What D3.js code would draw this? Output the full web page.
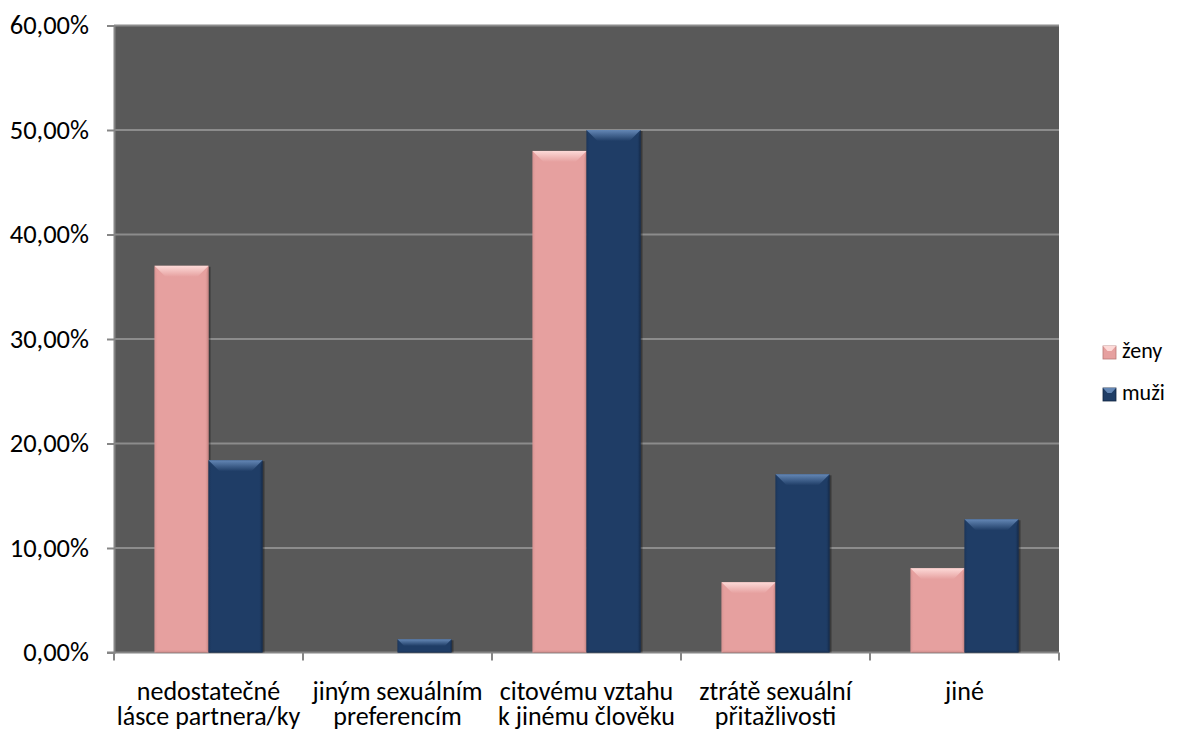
<!DOCTYPE html>
<html><head><meta charset="utf-8">
<script src="https://cdn.jsdelivr.net/npm/d3@7"></script>
<style>
html,body{margin:0;padding:0;background:#fff;}
svg text{font-family:Carlito, Calibri, Lato, sans-serif;fill:#000;}
</style></head>
<body>
<svg id="chart" width="1181" height="731"></svg>
<script>
const categories = [
  ["nedostatečné","lásce partnera/ky"],
  ["jiným sexuálním","preferencím"],
  ["citovému vztahu","k jinému člověku"],
  ["ztrátě sexuální","přitažlivosti"],
  ["jiné"]
];
const seriesNames = ["ženy","muži"];
const zenyValues = [0.370, 0.0, 0.480, 0.0672, 0.0806];
const muziValues = [0.184, 0.0126, 0.500, 0.1705, 0.1275];
const yTicks = [0, 0.1, 0.2, 0.3, 0.4, 0.5, 0.6];
const yTickLabels = ["0,00%","10,00%","20,00%","30,00%","40,00%","50,00%","60,00%"];

const colors = {
  "ženy": {base:"#E6A09F", light:"#FDDAD8", dark:"#B87977"},
  "muži": {base:"#1F3D66", light:"#6487B5", dark:"#112440"}
};

const svg = d3.select("#chart");
const plot = {l:114, r:1059, t:25.5, b:652.5};

const catKeys = categories.map((c,i)=>String(i));
const x0 = d3.scaleBand().domain(catKeys).range([plot.l, plot.r])
  .paddingInner(81/189).paddingOuter(81/378);
const x1 = d3.scaleBand().domain(seriesNames).range([0, x0.bandwidth()]);
const y = d3.scaleLinear().domain([0,0.6]).range([plot.b, plot.t]);
const xEdges = d3.scaleLinear().domain([0,5]).range([plot.l, plot.r]);

const defs = svg.append("defs");
seriesNames.forEach((s,si)=>{
  const c = colors[s];
  const gt = defs.append("linearGradient").attr("id","top"+si).attr("x1",0).attr("y1",0).attr("x2",0).attr("y2",1);
  gt.append("stop").attr("offset",0).attr("stop-color",c.light);
  gt.append("stop").attr("offset",1).attr("stop-color",c.base);
  const gl = defs.append("linearGradient").attr("id","left"+si).attr("x1",0).attr("y1",0).attr("x2",1).attr("y2",0);
  gl.append("stop").attr("offset",0).attr("stop-color",c.dark).attr("stop-opacity",0.4);
  gl.append("stop").attr("offset",1).attr("stop-color",c.base).attr("stop-opacity",0);
  const gr = defs.append("linearGradient").attr("id","right"+si).attr("x1",0).attr("y1",0).attr("x2",1).attr("y2",0);
  gr.append("stop").attr("offset",0).attr("stop-color",c.base).attr("stop-opacity",0);
  gr.append("stop").attr("offset",1).attr("stop-color",c.dark).attr("stop-opacity",0.9);
  const gb = defs.append("linearGradient").attr("id","bot"+si).attr("x1",0).attr("y1",0).attr("x2",0).attr("y2",1);
  gb.append("stop").attr("offset",0).attr("stop-color",c.base).attr("stop-opacity",0);
  gb.append("stop").attr("offset",1).attr("stop-color",c.dark).attr("stop-opacity",0.6);
});

svg.append("rect").attr("x",plot.l).attr("y",plot.t).attr("width",plot.r-plot.l).attr("height",plot.b-plot.t).attr("fill","#595959");

svg.append("g").selectAll("line").data(yTicks.filter(d=>d>0)).join("line")
  .attr("x1",plot.l).attr("x2",plot.r).attr("y1",d=>y(d)).attr("y2",d=>y(d))
  .attr("stroke","#8C8C8C").attr("stroke-width",2);

const yAxis = d3.axisLeft(y).tickValues(yTicks).tickSize(7).tickPadding(18)
  .tickFormat((d,i)=>yTickLabels[i]);
const gy = svg.append("g").attr("transform",`translate(${plot.l},0)`).call(yAxis);
gy.select(".domain").attr("stroke","#868686").attr("stroke-width",2);
gy.selectAll(".tick line").attr("stroke","#868686").attr("stroke-width",2);
gy.selectAll(".tick text").attr("font-size",26.5).attr("font-family","Carlito, Calibri, Lato, sans-serif").attr("fill","#000");

const gx = svg.append("g");
gx.append("line").attr("x1",plot.l-7).attr("x2",plot.r).attr("y1",plot.b).attr("y2",plot.b)
  .attr("stroke","#868686").attr("stroke-width",2);
gx.selectAll("line.tk").data(d3.range(6)).join("line").attr("class","tk")
  .attr("x1",d=>xEdges(d)).attr("x2",d=>xEdges(d)).attr("y1",plot.b).attr("y2",plot.b+8)
  .attr("stroke","#868686").attr("stroke-width",2);

const bevel = 11;
const bars = [];
categories.forEach((c,ci)=>{
  seriesNames.forEach((s,si)=>{
    const v = (si===0?zenyValues:muziValues)[ci];
    if (v<=0) return;
    bars.push({ci,si,s,v});
  });
});
const bg = svg.append("g").selectAll("g").data(bars).join("g");
bg.each(function(d){
  const g = d3.select(this);
  const bx = x0(String(d.ci)) + x1(d.s);
  const bw = x1.bandwidth();
  const by = y(d.v);
  const bh = y(0) - by;
  const c = colors[d.s];
  const bv = Math.min(bevel, bh/2, bw/2);
  g.append("rect").attr("x",bx+1).attr("y",by+1).attr("width",bw+1).attr("height",bh-1)
    .attr("fill","#000").attr("opacity",0.35);
  g.append("rect").attr("x",bx).attr("y",by).attr("width",bw).attr("height",bh).attr("fill",c.base);
  g.append("polygon").attr("points",[[bx,by],[bx+bv*0.35,by+bv],[bx+bv*0.35,by+bh-bv*0.3],[bx,by+bh]].join(" "))
    .attr("fill",`url(#left${d.si})`);
  g.append("polygon").attr("points",[[bx+bw,by],[bx+bw-bv*0.35,by+bv],[bx+bw-bv*0.35,by+bh-bv*0.3],[bx+bw,by+bh]].join(" "))
    .attr("fill",`url(#right${d.si})`);
  g.append("polygon").attr("points",[[bx,by+bh],[bx+bv*0.35,by+bh-bv*0.3],[bx+bw-bv*0.35,by+bh-bv*0.3],[bx+bw,by+bh]].join(" "))
    .attr("fill",`url(#bot${d.si})`);
  g.append("polygon").attr("points",[[bx,by],[bx+bw,by],[bx+bw-bv,by+bv],[bx+bv,by+bv]].join(" "))
    .attr("fill",`url(#top${d.si})`);
});

const cl = svg.append("g");
categories.forEach((lines,ci)=>{
  const cx = x0(String(ci)) + x0.bandwidth()/2;
  lines.forEach((ln,li)=>{
    cl.append("text").attr("text-anchor","middle").attr("font-size",26)
      .attr("x",cx).attr("y",700 + li*25).text(ln);
  });
});

const lg = svg.append("g");
seriesNames.forEach((s,si)=>{
  const ly = 346 + si*42;
  const c = colors[s];
  lg.append("rect").attr("x",1103).attr("y",ly).attr("width",13).attr("height",13).attr("fill",c.base)
    .attr("stroke",c.dark).attr("stroke-width",0.8);
  lg.append("polygon").attr("points",[[1103,ly],[1116,ly],[1111.5,ly+5],[1107.5,ly+5]].join(" "))
    .attr("fill",c.light);
  lg.append("text").attr("x",1122).attr("y",ly+12).attr("font-size",22).text(s);
});
</script>
</body></html>
